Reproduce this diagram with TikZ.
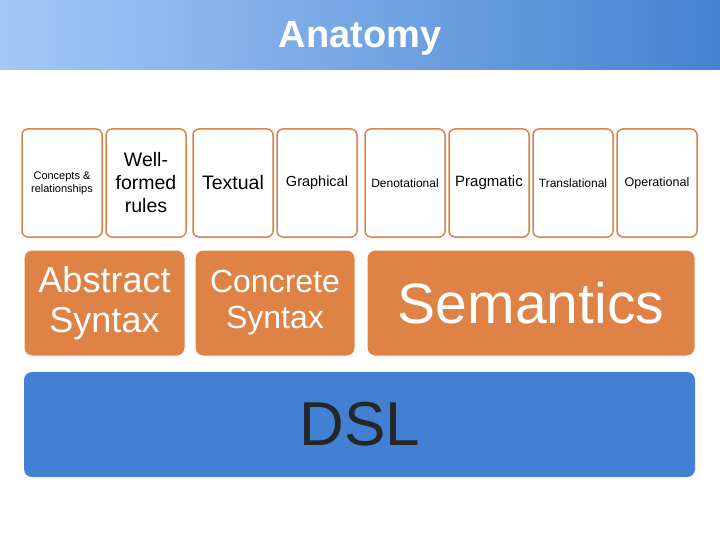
\documentclass[tikz,border=0pt]{standalone}
\usepackage{fontspec}
\setmainfont{Liberation Sans}
\definecolor{org}{HTML}{DE8245}
\definecolor{dslb}{HTML}{4180D2}
\definecolor{hl}{HTML}{A4C8F7}
\definecolor{hr}{HTML}{4583D0}
\begin{document}
\begin{tikzpicture}[x=1pt,y=-1pt,
 small/.style={draw=org,line width=1.5pt,fill=white,rounded corners=6pt,align=center},
 big/.style={fill=org,draw=white,line width=1pt,rounded corners=8pt,align=center,text=white},
]
\useasboundingbox (0,0) rectangle (720,540);
\shade[left color=hl,right color=hr] (0,0) rectangle (720,70);
\node[text=white,font=\fontsize{38}{42}\selectfont\bfseries] (title) at (360,38) {Anatomy};
\foreach \n/\a/\t/\fs/\ld in {a/22/{Concepts \&\\relationships}/11/13, b/106/{Well-\\formed\\rules}/19.5/23, c/193/Textual/19.5/23, d/277/Graphical/14.5/17, e/365/Denotational/12/14, f/449/Pragmatic/15/17, g/533/Translational/12/14, h/617/Operational/12.5/14}{
 \node[small,minimum width=80pt,minimum height=108pt,font=\fontsize{\fs}{\ld}\selectfont,inner sep=0pt] (\n) at (\a+40,183) {\t};
}
\node[big,minimum width=161pt,minimum height=106pt,font=\fontsize{36}{40}\selectfont] (abs) at (104.5,303) {Abstract\\Syntax};
\node[big,minimum width=160pt,minimum height=106pt,font=\fontsize{32}{36}\selectfont] (con) at (275,303) {Concrete\\Syntax};
\node[big,minimum width=328pt,minimum height=106pt,font=\fontsize{57}{60}\selectfont] (sem) at (531,303) {Semantics};
\fill[dslb,rounded corners=8pt] (24,372) rectangle (695,477);
\node[font=\fontsize{62}{66}\selectfont,text=black!85] (dsl) at (360,424) {DSL};
\end{tikzpicture}
\end{document}
